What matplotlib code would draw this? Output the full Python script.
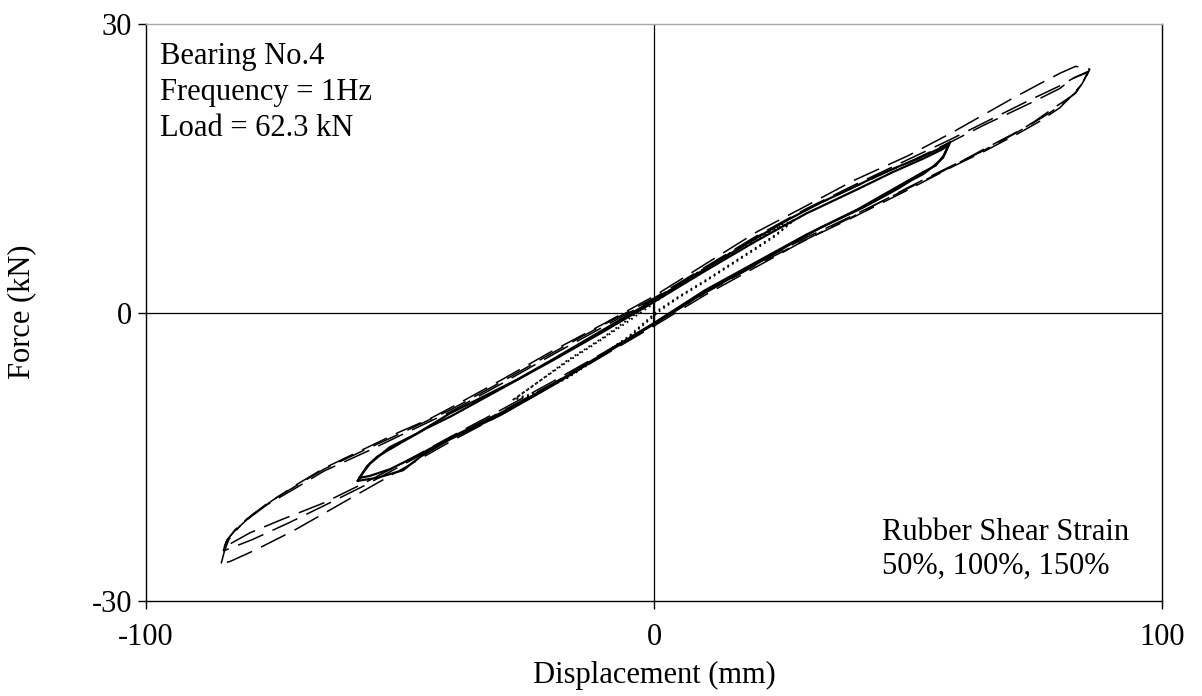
import matplotlib
matplotlib.use("Agg")
import matplotlib.pyplot as plt

# ---------------------------------------------------------------
# Force-displacement hysteresis loops, Bearing No.4
# Each cycle = rising branch (min -> max displacement) followed by
# the falling branch (max -> min displacement).
# ---------------------------------------------------------------

# 150 % shear strain (dashed), three cycles
d150_c1_up_x = [-85.2, -84.6, -83.7, -81.5, -79.0, -75.0, -71.0, -65.0, -56.7, -50.0, -44.3, -40.0,
                -30.0, -20.0, -10.0, 0.0, 10.0, 20.3, 30.0, 39.2, 50.0, 58.3, 65.0, 70.7, 76.0, 80.0, 83.0, 85.8]
d150_c1_up_y = [-26.1, -24.9, -23.6, -22.2, -21.0, -19.5, -18.1, -16.2, -14.1, -12.4, -11.1, -9.9,
                -7.0, -4.0, -1.2, 1.7, 5.0, 8.4, 11.1, 13.7, 16.3, 18.6, 20.6, 22.3, 23.8, 24.9, 25.6, 25.3]
d150_c1_dn_x = [85.8, 85.0, 84.3, 82.5, 79.9, 76.0, 72.0, 64.8, 58.9, 49.8, 39.2, 29.3, 20.0, 10.0,
                0.0, -10.0, -20.0, -30.0, -40.0, -50.0, -56.7, -65.0, -71.0, -78.5, -83.5, -85.2]
d150_c1_dn_y = [25.3, 24.6, 23.8, 22.7, 21.3, 19.9, 18.7, 16.7, 15.2, 12.7, 9.9, 7.4, 4.7, 1.8,
                -1.4, -4.5, -7.6, -10.6, -13.4, -16.4, -18.4, -20.9, -22.7, -24.7, -25.9, -26.1]

d150_c2_up_x = [-84.6, -84.0, -82.5, -79.5, -76.2, -71.0, -65.0, -56.7, -50.0, -40.0, -30.0, -20.0,
                -10.0, 0.0, 10.0, 20.0, 30.0, 40.0, 50.0, 58.3, 65.0, 74.6, 79.9, 82.3, 85.5]
d150_c2_up_y = [-24.4, -23.6, -22.7, -21.3, -20.0, -18.4, -16.5, -14.5, -12.8, -10.3, -7.4, -4.4,
                -1.5, 1.4, 4.6, 7.8, 10.7, 13.2, 15.6, 17.7, 19.5, 21.9, 23.3, 24.3, 25.0]
d150_c2_dn_x = [85.5, 84.4, 83.0, 80.5, 78.5, 75.0, 72.6, 65.0, 58.0, 50.0, 40.0, 30.0, 20.0, 10.0,
                0.0, -10.0, -20.0, -30.0, -40.0, -50.0, -57.3, -65.0, -73.6, -79.5, -84.6]
d150_c2_dn_y = [25.0, 23.9, 22.8, 21.9, 21.2, 19.9, 19.1, 17.0, 15.0, 12.9, 10.3, 7.8, 5.1, 2.1,
                -1.1, -4.2, -7.2, -10.1, -12.9, -15.8, -17.8, -19.8, -21.6, -22.9, -24.4]

d150_c3_up_x = [-84.8, -84.2, -82.5, -80.0, -76.0, -71.0, -65.0, -57.0, -50.0, -40.0, -30.0, -20.0,
                -10.0, 0.0, 10.0, 20.0, 30.0, 40.0, 50.0, 58.0, 66.0, 74.0, 80.0, 83.0, 85.6]
d150_c3_up_y = [-24.8, -23.8, -22.6, -21.4, -19.8, -18.2, -16.3, -14.3, -12.6, -10.1, -7.2, -4.2,
                -1.3, 1.5, 4.7, 7.9, 10.8, 13.4, 15.9, 17.9, 20.0, 22.1, 23.6, 24.5, 25.1]
d150_c3_dn_x = [85.6, 84.6, 83.2, 81.0, 78.0, 74.0, 70.0, 64.0, 58.0, 50.0, 40.0, 30.0, 20.0, 10.0,
                0.0, -10.0, -20.0, -30.0, -40.0, -50.0, -57.0, -65.0, -72.0, -79.0, -84.8]
d150_c3_dn_y = [25.1, 24.0, 23.0, 21.9, 20.8, 19.5, 18.3, 16.6, 15.1, 13.0, 10.2, 7.6, 4.9, 2.0,
                -1.2, -4.3, -7.4, -10.3, -13.1, -16.0, -18.0, -20.1, -21.9, -23.6, -24.8]

# 100 % shear strain (solid), start-up step plus two cycles
d100_start_x = [0.0, 0.0]
d100_start_y = [-1.4, 1.2]

d100_c1_up_x = [-58.3, -57.2, -55.9, -52.0, -46.7, -40.2, -32.3, -27.0, -20.0, -10.0, 0.0, 10.0,
                20.0, 26.2, 32.7, 39.2, 45.0, 52.4, 56.0, 58.3]
d100_c1_up_y = [-17.5, -16.6, -15.7, -14.0, -12.6, -10.5, -8.4, -7.0, -4.9, -1.8, 1.3, 4.5,
                7.7, 9.6, 11.4, 13.0, 14.5, 16.1, 17.0, 17.7]
d100_c1_dn_x = [58.3, 57.6, 56.9, 55.0, 53.0, 50.5, 48.4, 45.0, 41.1, 32.7, 26.2, 20.0, 10.0, 0.0,
                -7.2, -10.0, -20.0, -30.0, -40.2, -46.0, -49.4, -54.5, -58.3]
d100_c1_dn_y = [17.7, 16.9, 16.1, 15.2, 14.4, 13.7, 13.0, 12.0, 10.9, 8.8, 6.9, 5.0, 2.1, -1.2,
                -3.5, -4.4, -7.6, -10.6, -13.2, -15.0, -16.4, -17.2, -17.5]

d100_c2_up_x = [-58.0, -56.5, -54.5, -50.0, -45.0, -40.0, -30.0, -20.0, -10.0, 0.0, 10.0, 20.0,
                30.0, 40.0, 47.0, 53.0, 56.5, 58.0]
d100_c2_up_y = [-17.2, -16.0, -15.0, -13.6, -12.1, -10.8, -7.9, -5.0, -2.0, 1.1, 4.3, 7.4,
                10.3, 12.8, 14.6, 16.0, 16.9, 17.4]
d100_c2_dn_x = [58.0, 57.0, 55.5, 53.0, 50.0, 45.0, 40.0, 30.0, 20.0, 10.0, 0.0, -10.0, -20.0,
                -30.0, -40.0, -47.0, -52.0, -56.0, -58.0]
d100_c2_dn_y = [17.4, 16.3, 15.3, 14.6, 13.7, 12.2, 10.7, 8.1, 5.2, 2.3, -1.1, -4.3, -7.5,
                -10.4, -13.0, -15.0, -16.3, -17.0, -17.2]

# 50 % shear strain (dotted), two cycles
d50_c1_up_x = [-27.8, -24.0, -17.1, -10.0, -5.3, -1.4, 5.0, 10.0, 15.0, 20.0, 24.0, 27.5]
d50_c1_up_y = [-9.1, -7.7, -5.0, -2.6, -0.8, 0.7, 3.0, 4.6, 6.2, 7.7, 8.8, 9.6]
d50_c1_dn_x = [27.5, 24.0, 20.0, 15.0, 10.0, 5.0, 1.2, -5.0, -10.0, -17.0, -24.0, -27.8]
d50_c1_dn_y = [9.6, 8.0, 6.6, 4.9, 3.2, 1.6, 0.2, -2.6, -4.4, -6.8, -8.6, -9.1]

d50_c2_up_x = [-27.5, -23.0, -17.0, -10.0, -5.0, -1.0, 5.0, 10.0, 15.0, 20.0, 24.0, 27.3]
d50_c2_up_y = [-9.0, -7.3, -5.1, -2.7, -0.9, 0.6, 2.9, 4.5, 6.1, 7.6, 8.7, 9.5]
d50_c2_dn_x = [27.3, 24.0, 20.0, 15.0, 10.0, 5.0, 1.0, -5.0, -10.0, -17.0, -23.0, -27.5]
d50_c2_dn_y = [9.5, 8.1, 6.7, 5.0, 3.3, 1.7, 0.3, -2.5, -4.3, -6.7, -8.3, -9.0]

x_ticks = [-100, 0, 100]
y_ticks = [-30, 0, 30]

info_lines = ["Bearing No.4", "Frequency = 1Hz", "Load = 62.3 kN"]
strain_lines = ["Rubber Shear Strain", "50%, 100%, 150%"]

# ---------------------------------------------------------------
plt.rcParams['font.family'] = ['Liberation Serif', 'DejaVu Serif']
FS = 22

W, H = 1202, 696
fig = plt.figure(figsize=(W / 100, H / 100), dpi=100)
x0, x1, y0, y1 = 146, 1162, 24, 601
ax = fig.add_axes([x0 / W, 1 - y1 / H, (x1 - x0) / W, (y1 - y0) / H])
ax.set_xlim(-100, 100)
ax.set_ylim(-30, 30)

# reference axes through the origin
ax.axhline(0, color='black', lw=0.9, zorder=1)
ax.axvline(0, color='black', lw=0.9, zorder=1)


def loop(ux, uy, dx, dy):
    return list(ux) + list(dx), list(uy) + list(dy)


dash_style = dict(color='black', lw=1.1, dashes=(18, 6.5), zorder=3)
solid_style = dict(color='black', lw=1.6, zorder=4, solid_joinstyle='round')
dot_style = dict(color='black', lw=1.4, dashes=(0.9, 1.9), zorder=5)

for ux, uy, dx, dy in [
    (d150_c1_up_x, d150_c1_up_y, d150_c1_dn_x, d150_c1_dn_y),
    (d150_c2_up_x, d150_c2_up_y, d150_c2_dn_x, d150_c2_dn_y),
    (d150_c3_up_x, d150_c3_up_y, d150_c3_dn_x, d150_c3_dn_y),
]:
    xs, ys = loop(ux, uy, dx, dy)
    ax.plot(xs, ys, **dash_style)

ax.plot(d100_start_x, d100_start_y, **solid_style)
for ux, uy, dx, dy in [
    (d100_c1_up_x, d100_c1_up_y, d100_c1_dn_x, d100_c1_dn_y),
    (d100_c2_up_x, d100_c2_up_y, d100_c2_dn_x, d100_c2_dn_y),
]:
    xs, ys = loop(ux, uy, dx, dy)
    ax.plot(xs, ys, **solid_style)

for ux, uy, dx, dy in [
    (d50_c1_up_x, d50_c1_up_y, d50_c1_dn_x, d50_c1_dn_y),
    (d50_c2_up_x, d50_c2_up_y, d50_c2_dn_x, d50_c2_dn_y),
]:
    xs, ys = loop(ux, uy, dx, dy)
    ax.plot(xs, ys, **dot_style)

# frame
for side in ['left', 'bottom', 'right']:
    ax.spines[side].set_color('black')
    ax.spines[side].set_linewidth(1.0)
ax.spines['top'].set_color('#a8a8a8')
ax.spines['top'].set_linewidth(1.0)

ax.set_xticks(x_ticks)
ax.set_yticks(y_ticks)
ax.set_xticklabels([str(v) for v in x_ticks])
ax.set_yticklabels([str(v) for v in y_ticks])
ax.tick_params(axis='both', direction='out', length=6, width=1.0, labelsize=FS, color='black')
ax.tick_params(axis='y', pad=4)
ax.tick_params(axis='x', pad=10)

fig.text(654 / W, 1 - 675 / H, "Displacement (mm)", ha='center', va='center', fontsize=FS)
fig.text(22 / W, 1 - 312 / H, "Force (kN)", ha='center', va='center', rotation=90, fontsize=FS)

for line, base in zip(info_lines, [64, 100, 136]):
    fig.text(160 / W, 1 - base / H, line, ha='left', va='baseline', fontsize=FS)
for line, base in zip(strain_lines, [540, 574]):
    fig.text(882 / W, 1 - base / H, line, ha='left', va='baseline', fontsize=FS)

fig.savefig("out.png", dpi=100)
